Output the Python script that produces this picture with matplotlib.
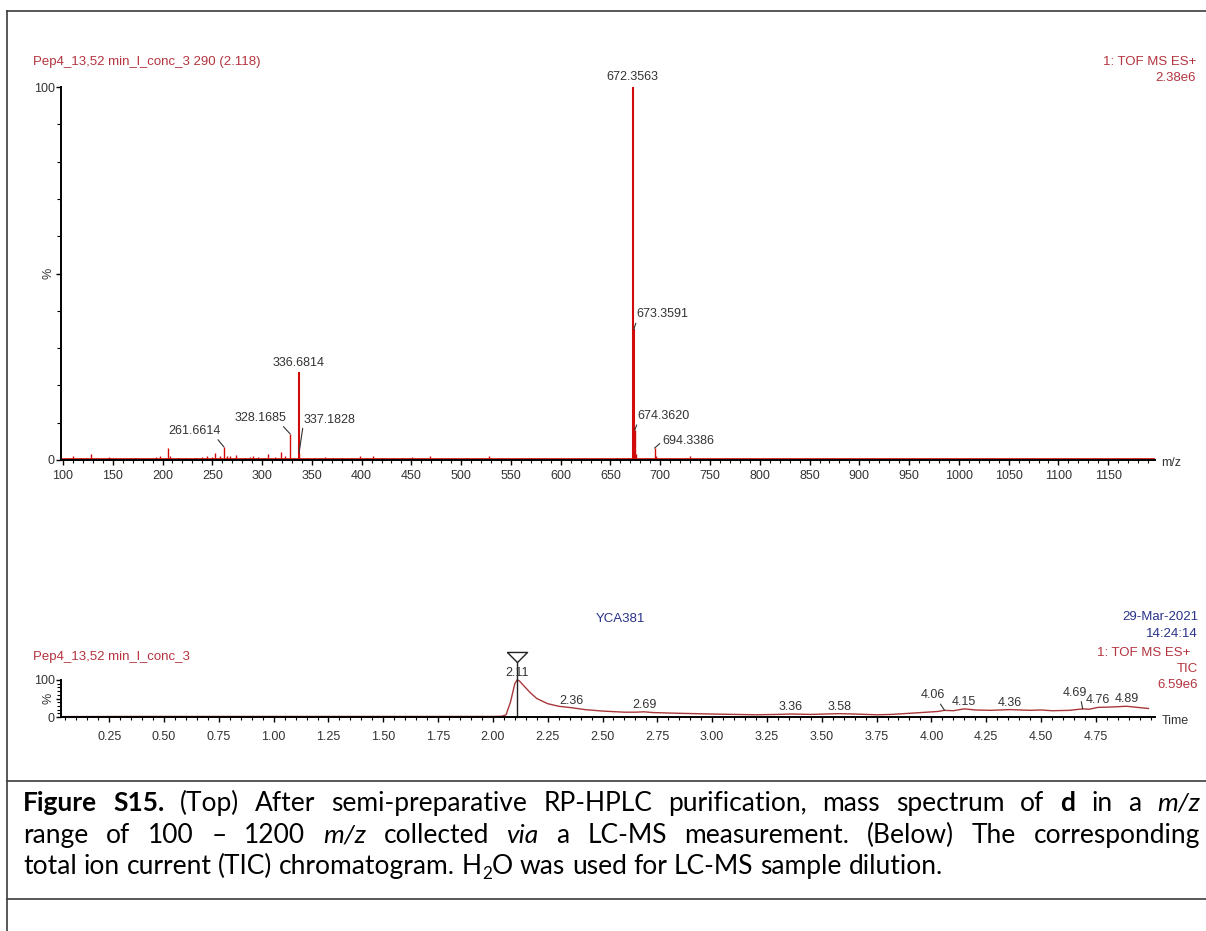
import re
import numpy as np
import matplotlib
matplotlib.use("Agg")
import matplotlib.pyplot as plt
from matplotlib.lines import Line2D
from matplotlib.ticker import MultipleLocator, FixedLocator, FormatStrFormatter

# ---- mass spectrum (top panel), m/z and relative intensity in % ----
mz = [110, 118, 128, 137, 146, 160, 172, 183, 193, 197, 205, 208, 216, 224, 233,
      240, 245, 250, 253, 258, 261.6614, 265, 268, 274, 283, 288, 291, 296, 302, 306,
      313, 319, 323, 328.1685, 336.6814, 337.1828, 345, 352, 358, 363, 371, 380, 389,
      398, 405, 411, 420, 432, 441, 451, 460, 469, 480, 492, 505, 516, 528, 540, 555,
      570, 590, 610, 630, 657, 668, 672.3563, 673.3591, 674.3620, 675.4, 690,
      694.3386, 695.3, 710, 730, 760, 790, 830, 880, 930, 980, 1030, 1080, 1130, 1180]
intensity = [1.0, 0.5, 1.5, 0.4, 0.7, 0.4, 0.5, 0.4, 0.8, 1.2, 3.3, 1.0, 0.5, 0.6, 0.5,
             0.8, 1.2, 0.8, 2.0, 1.0, 3.5, 1.2, 1.0, 1.3, 0.6, 0.7, 1.0, 0.8, 0.6, 1.6,
             0.7, 2.2, 1.2, 7.0, 23.6, 2.0, 0.5, 0.6, 0.5, 0.8, 0.5, 0.6, 0.5,
             1.2, 0.6, 1.1, 0.5, 0.5, 0.5, 0.7, 0.4, 1.0, 0.4, 0.4, 0.5, 0.4, 1.2, 0.4, 0.4,
             0.5, 0.4, 0.4, 0.4, 0.6, 0.6, 100, 35, 8, 1.5, 0.5,
             3.2, 1.0, 0.4, 1.2, 0.4, 0.4, 0.4, 0.3, 0.3, 0.3, 0.3, 0.3, 0.3, 0.3]
ms_labels = [672.3563, 673.3591, 674.3620, 694.3386, 336.6814, 328.1685, 337.1828, 261.6614]

# ---- TIC chromatogram (bottom panel), time in min and % ----
tic_time = [0.03, 0.37, 0.71, 1.04, 1.37, 1.70, 2.00,
            2.04, 2.06, 2.08, 2.10, 2.11, 2.12, 2.14, 2.17, 2.20,
            2.25, 2.30, 2.36, 2.42, 2.50, 2.60, 2.65, 2.69, 2.73, 2.85,
            3.00, 3.10, 3.20, 3.30, 3.36, 3.45, 3.58, 3.65, 3.75, 3.82,
            3.90, 3.98, 4.03, 4.06, 4.10, 4.15, 4.20, 4.27, 4.36, 4.45,
            4.50, 4.55, 4.63, 4.69, 4.72, 4.76, 4.82, 4.89, 4.94, 4.99]
tic_pct = [1, 1.5, 1.5, 1.5, 1.5, 1.5, 1.5,
           2, 6, 40, 90, 100, 98, 85, 66, 50,
           36, 29, 25, 20, 16, 13, 13, 14, 12, 10,
           8, 7, 6, 7, 8, 7, 9, 8, 6, 7,
           10, 13, 15, 18, 17, 22, 19, 18, 20, 18,
           19, 17, 18, 22, 21, 26, 27, 29, 26, 23]
tic_labels = [2.11, 2.36, 2.69, 3.36, 3.58, 4.06, 4.15, 4.36, 4.69, 4.76, 4.89]
tic_mark = 2.11

caption = [
    "**Figure** **S15.** (Top) After semi-preparative RP-HPLC purification, mass spectrum of **d** in a *m/z*",
    "range of 100 \u2013 1200 *m/z* collected *via* a LC-MS measurement. (Below) The corresponding",
    "total ion current (TIC) chromatogram. H_{2}O was used for LC-MS sample dilution.",
]

W, H = 1206, 931
RED_TXT = "#b3343f"
BLUE_TXT = "#2a3388"
PEAK = "#d10a0a"
TRACE = "#a8383a"
GREY = "#333333"
FRAME = "#3c3c3c"

plt.rcParams["font.family"] = ["Liberation Sans", "DejaVu Sans"]

fig = plt.figure(figsize=(W / 100, H / 100), dpi=100)
fig.patch.set_facecolor("white")


def fx(p):
    return p / W


def fy(p):
    return 1 - p / H


def frame_line(x0, y0, x1, y1):
    fig.add_artist(Line2D([fx(x0), fx(x1)], [fy(y0), fy(y1)], transform=fig.transFigure,
                          color=FRAME, lw=1.2))


frame_line(7, 11, 1206, 11)
frame_line(7, 11, 7, 931)
frame_line(7, 781, 1206, 781)
frame_line(7, 899, 1206, 899)


def style_axes(ax, xpad):
    for s in ["top", "right"]:
        ax.spines[s].set_visible(False)
    for s in ["left", "bottom"]:
        ax.spines[s].set_linewidth(1.4)
        ax.spines[s].set_color("black")
    ax.set_facecolor("none")
    ax.tick_params(which="both", direction="out", color="black", labelcolor=GREY, labelsize=9)
    ax.tick_params(axis="x", which="major", length=3.8, width=1.0, pad=xpad)
    ax.tick_params(axis="x", which="minor", length=2.2, width=0.8)
    ax.tick_params(axis="y", which="major", length=3.5, width=1.0, pad=1)
    ax.tick_params(axis="y", which="minor", length=3.0, width=0.8)
    ax.set_ylim(0, 100)
    ax.set_yticks([0, 50, 100], labels=["0", "", "100"])
    ax.yaxis.set_minor_locator(MultipleLocator(10))
    ax.annotate("%", xy=(0, 50), xycoords=("axes fraction", "data"), xytext=(-13, 0),
                textcoords="offset pixels", rotation=90, ha="center", va="center",
                fontsize=9, color=GREY)


# ---------------- top: mass spectrum ----------------
ax1 = fig.add_axes([fx(61), fy(460), fx(1155) - fx(61), (460 - 87) / H])
style_axes(ax1, 3.5)
ax1.set_xlim(98, 1197)
ax1.xaxis.set_major_locator(MultipleLocator(50))
ax1.xaxis.set_minor_locator(MultipleLocator(10))
ax1.axhline(0.35, color=PEAK, lw=1.2, zorder=1)
widths = [1.5 if v > 20 else 1.0 for v in intensity]
ax1.vlines(mz, 0, intensity, colors=PEAK, linewidth=widths, zorder=2)

# label placement: (dx, dy) in pixels, ha, va, leader anchor on the text
ms_layout = {
    672.3563: (0, 4, "center", "bottom", None),
    673.3591: (3, 9, "left", "bottom", (0, 0)),
    674.3620: (3, 8, "left", "bottom", (0, 0)),
    694.3386: (8, 7, "left", "center", (0, 0.5)),
    336.6814: (0, 3, "center", "bottom", None),
    328.1685: (-4, 10, "right", "bottom", (0.9, 0)),
    337.1828: (4, 27, "left", "bottom", (0, 0)),
    261.6614: (-3, 10, "right", "bottom", (0.9, 0)),
}
for m in ms_labels:
    v = intensity[mz.index(m)]
    dx, dy, ha, va, rel = ms_layout[m]
    props = None
    if rel is not None:
        props = dict(arrowstyle="-", lw=0.8, color=GREY, shrinkA=0, shrinkB=0, relpos=rel)
    ax1.annotate(f"{m:.4f}", xy=(m, v), xytext=(dx, dy), textcoords="offset pixels",
                 ha=ha, va=va, fontsize=9, color=GREY, arrowprops=props, annotation_clip=False)

fig.text(fx(1161), fy(463), "m/z", ha="left", va="center", fontsize=9, color=GREY)
fig.text(fx(33), fy(62), "Pep4_13,52 min_l_conc_3 290 (2.118)", ha="left", va="center",
         fontsize=9.5, color=RED_TXT)
fig.text(fx(1196), fy(62), "1: TOF MS ES+", ha="right", va="center", fontsize=9.5, color=RED_TXT)
fig.text(fx(1196), fy(78), "2.38e6", ha="right", va="center", fontsize=9.5, color=RED_TXT)

# ---------------- bottom: TIC chromatogram ----------------
ax2 = fig.add_axes([fx(61), fy(717), fx(1155) - fx(61), (717 - 680) / H])
style_axes(ax2, 6)
ax2.set_xlim(0.03, 5.02)
ax2.xaxis.set_major_locator(FixedLocator(np.arange(0.25, 4.8, 0.25)))
ax2.xaxis.set_major_formatter(FormatStrFormatter("%.2f"))
ax2.xaxis.set_minor_locator(MultipleLocator(0.05))
ax2.plot(tic_time, tic_pct, color=TRACE, lw=1.0, clip_on=False, zorder=2)

# retention-time marker
xt = ax2.get_xaxis_transform()
ax2.plot([tic_mark, tic_mark], [0, 1.49], transform=xt, color="#222222", lw=1.0, clip_on=False)
tri = [(-1, 0.5), (1, 0.5), (0, -0.5), (-1, 0.5)]
ax2.plot([tic_mark], [1.63], transform=xt, marker=tri, ms=14.5, mfc="white", mec="#222222",
         mew=1.0, clip_on=False, linestyle="none")

tic_layout = {
    4.06: (-12, 9, (0.75, 0)),
    4.69: (-8, 10, (0.75, 0)),
}
for t in tic_labels:
    v = tic_pct[tic_time.index(t)]
    dx, dy, rel = tic_layout.get(t, (0, 1, None))
    props = None
    if rel is not None:
        props = dict(arrowstyle="-", lw=0.8, color=GREY, shrinkA=0, shrinkB=0, relpos=rel)
    ax2.annotate(f"{t:.2f}", xy=(t, v), xytext=(dx, dy), textcoords="offset pixels",
                 ha="center", va="bottom", fontsize=9, color=GREY, arrowprops=props,
                 annotation_clip=False)

fig.text(fx(1162), fy(721), "Time", ha="left", va="center", fontsize=9, color=GREY)
fig.text(fx(33), fy(657), "Pep4_13,52 min_l_conc_3", ha="left", va="center",
         fontsize=9.5, color=RED_TXT)
fig.text(fx(620), fy(619), "YCA381", ha="center", va="center", fontsize=9.5, color=BLUE_TXT)
fig.text(fx(1198), fy(617), "29-Mar-2021", ha="right", va="center", fontsize=9.5, color=BLUE_TXT)
fig.text(fx(1198), fy(634), "14:24:14", ha="right", va="center", fontsize=9.5, color=BLUE_TXT)
fig.text(fx(1190), fy(653), "1: TOF MS ES+", ha="right", va="center", fontsize=9.5, color=RED_TXT)
fig.text(fx(1198), fy(669), "TIC", ha="right", va="center", fontsize=9.5, color=RED_TXT)
fig.text(fx(1198), fy(685), "6.59e6", ha="right", va="center", fontsize=9.5, color=RED_TXT)

# ---------------- caption ----------------
renderer = fig.canvas.get_renderer()
CAP_FONT = "Lato"


def parse_word(w):
    parts = []
    for tok in re.split(r"(\*\*.+?\*\*|\*.+?\*|_\{.+?\})", w):
        if not tok:
            continue
        if tok.startswith("**"):
            parts.append((tok[2:-2], "b"))
        elif tok.startswith("*"):
            parts.append((tok[1:-1], "i"))
        elif tok.startswith("_{"):
            parts.append((tok[2:-1], "sub"))
        else:
            parts.append((tok, "n"))
    return parts


def make_piece(s, style, fs):
    kw = dict(family=CAP_FONT, fontsize=fs, color="black", va="baseline", ha="left")
    if style == "b":
        kw["fontweight"] = "bold"
    if style == "i":
        kw["fontstyle"] = "italic"
    if style == "sub":
        kw["fontsize"] = fs * 0.65
    return fig.text(0, 0, s, **kw)


def text_width(t):
    return t.get_window_extent(renderer).width


def space_width(fs):
    a = make_piece("a a", "n", fs)
    b = make_piece("aa", "n", fs)
    w = text_width(a) - text_width(b)
    a.remove()
    b.remove()
    return w


def caption_line(text, y_base, fs, x0, x1=None, keep=True):
    words = [parse_word(w) for w in text.split(" ")]
    pieces, wsum = [], []
    for w in words:
        wp, ww = [], 0
        for s, st in w:
            t = make_piece(s, st, fs)
            wd = text_width(t)
            wp.append((t, st, wd))
            ww += wd
        pieces.append(wp)
        wsum.append(ww)
    gap = space_width(fs)
    if x1 is not None:
        gap = (x1 - x0 - sum(wsum)) / (len(words) - 1)
    total = sum(wsum) + gap * (len(words) - 1)
    x = x0
    for wp, ww in zip(pieces, wsum):
        cx = x
        for t, st, wd in wp:
            if not keep:
                t.remove()
                continue
            dy = 0.2 * fs * 100 / 72 if st == "sub" else 0
            t.set_position((fx(cx), fy(y_base + dy)))
            cx += wd
        x += ww + gap
    return total


fs0 = 16
w3 = caption_line(caption[2], 0, fs0, 0, keep=False)
fs = fs0 * 920 / w3
caption_line(caption[0], 811, fs, 23, 1200)
caption_line(caption[1], 843, fs, 23, 1200)
caption_line(caption[2], 874, fs, 23)

fig.savefig("out.png", dpi=100, facecolor="white")
